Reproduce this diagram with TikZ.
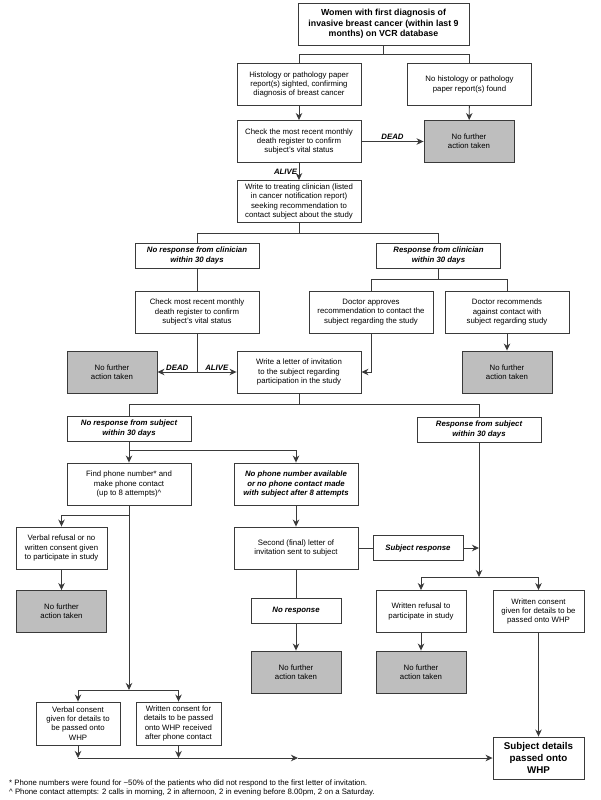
\documentclass[tikz,border=0pt]{standalone}
\usepackage{fontspec}
\setmainfont{Liberation Sans}
\usetikzlibrary{arrows.meta}
\definecolor{frame}{HTML}{3A3A3A}
\definecolor{wire}{HTML}{3A3A3A}
\definecolor{halt}{HTML}{BEBEBE}
\tikzset{
  stepbox/.style={draw=frame, line width=0.9pt, fill=white, align=center, inner sep=0pt,
    minimum width=124pt, minimum height=42pt, font=\fontsize{7.8}{9.3}\selectfont},
  smallbox/.style={stepbox, minimum width=90pt},
  stopbox/.style={smallbox, fill=halt},
  branchbox/.style={stepbox, minimum height=25pt,
    font=\bfseries\itshape\fontsize{7.8}{9.3}\selectfont},
  headbox/.style={stepbox, minimum width=171pt, font=\bfseries\fontsize{8.8}{10.5}\selectfont},
  endbox/.style={stepbox, minimum width=91pt, font=\bfseries\fontsize{9.8}{11.7}\selectfont},
  link/.style={draw=wire, line width=0.9pt},
  linkarrow/.style={link, -{Stealth[length=7pt,width=6.5pt,inset=2.2pt]}},
  branchtag/.style={font=\bfseries\itshape\fontsize{7.8}{9.3}\selectfont, inner sep=1.5pt},
  note/.style={font=\fontsize{7.8}{9}\selectfont, inner sep=0pt, anchor=west},
}
\newcommand{\haltnode}[2]{%
  \node[stopbox] (#1) at (#2) {No further\\action taken};
}

\begin{document}
\begin{tikzpicture}[x=1pt, y=-1pt]
\path[use as bounding box] (0,0) rectangle (600,800);

\node[headbox] (women) at (383.5,24) {Women with first diagnosis of\\invasive breast cancer (within last 9\\months) on VCR database};
\node[stepbox] (histo) at (299,84.5) {Histology or pathology paper\\report(s) sighted, confirming\\diagnosis of breast cancer};
\node[stepbox] (nohisto) at (469.5,84.5) {No histology or pathology\\paper report(s) found};
\node[stepbox] (vital) at (299,141.5) {Check the most recent monthly\\death register to confirm\\subject's vital status};
\haltnode{halttop}{469,141.5}
\node[stepbox] (clin) at (299,201.5) {Write to treating clinician (listed\\in cancer notification report)\\seeking recommendation to\\contact subject about the study};
\node[branchbox] (noclin) at (197,255.5) {No response from clinician\\within 30 days};
\node[branchbox] (yesclin) at (438.5,255.5) {Response from clinician\\within 30 days};
\node[stepbox] (recheck) at (197,312) {Check most recent monthly\\death register to confirm\\subject's vital status};
\node[stepbox] (approve) at (371,312) {Doctor approves\\recommendation to contact the\\subject regarding the study};
\node[stepbox] (against) at (507,312) {Doctor recommends\\against contact with\\subject regarding study};
\haltnode{haltdead}{112,372}
\node[stepbox] (invite) at (299,372) {Write a letter of invitation\\to the subject regarding\\participation in the study};
\haltnode{haltdoc}{507,372}
\node[branchbox] (nosubj) at (129,428.5) {No response from subject\\within 30 days};
\node[branchbox] (yessubj) at (479,429.5) {Response from subject\\within 30 days};
\node[stepbox] (phone) at (129,484) {Find phone number* and\\make phone contact\\(up to 8 attempts)\^{}};
\node[stepbox, font=\bfseries\itshape\fontsize{7.8}{9.3}\selectfont] (nophone) at (296,484) {No phone number available\\or no phone contact made\\with subject after 8 attempts};
\node[smallbox, minimum width=91pt] (verbref) at (61.5,548) {Verbal refusal or no\\written consent given\\to participate in study};
\node[stepbox] (second) at (296,548) {Second (final) letter of\\invitation sent to subject};
\node[branchbox, minimum width=90pt] (subjresp) at (418,548) {Subject response};
\haltnode{haltverbal}{61.5,611.5}
\node[branchbox, minimum width=90pt] (noresp) at (296,610.5) {No response};
\node[smallbox] (wrefusal) at (421,611.5) {Written refusal to\\participate in study};
\node[smallbox, minimum width=91pt] (wconsent) at (538.5,611.5) {Written consent\\given for details to be\\passed onto WHP};
\haltnode{haltfinal}{296,672}
\haltnode{haltrefusal}{421,672}
\node[smallbox, minimum width=84pt, minimum height=43pt] (vconsent) at (78,723.5) {Verbal consent\\given for details to\\be passed onto\\WHP};
\node[smallbox, minimum width=85pt, minimum height=43pt] (wphone) at (178.5,723.5) {Written consent for\\details to be passed\\onto WHP received\\after phone contact};
\node[endbox] (details) at (538.5,758) {Subject details\\passed onto\\WHP};

\node[note] (fnnumber) at (9,783) {* Phone numbers were found for \textasciitilde 50\% of the patients who did not respond to the first letter of invitation.};
\node[note] (fnattempt) at (9,792) {\textasciicircum\ Phone contact attempts: 2 calls in morning, 2 in afternoon, 2 in evening before 8.00pm, 2 on a Saturday.};

\coordinate (topsplit) at (383.5,54);
\coordinate (clinsplit) at (299,233);
\coordinate (docsplit) at (438.5,279);
\coordinate (vitalsplit) at (197,372);
\coordinate (invitesplit) at (299,404);
\coordinate (nosubjsplit) at (129,450);
\coordinate (phonebend) at (129,515);
\coordinate (consentsplit) at (129,690);
\coordinate (replyjoin) at (479,548);
\coordinate (replysplit) at (479,577);
\coordinate (joinverbal) at (78,758);
\coordinate (joinwritten) at (178.5,758);
\coordinate (joinmid) at (298,758);

\draw[link] (women) -- (topsplit);
\draw[link] (topsplit) -| (histo);
\draw[link] (topsplit) -| (nohisto);
\draw[linkarrow] (histo) -- (vital);
\draw[linkarrow] (nohisto) -- (halttop);
\draw[linkarrow] (vital) -- node[branchtag, above] {DEAD} (halttop);
\draw[linkarrow] (vital) -- node[branchtag, left] {ALIVE} (clin);
\draw[link] (clin) -- (clinsplit);
\draw[link] (clinsplit) -| (noclin);
\draw[link] (clinsplit) -| (yesclin);
\draw[link] (noclin) -- (recheck);
\draw[link] (yesclin) -- (docsplit);
\draw[link] (docsplit) -| (approve);
\draw[link] (docsplit) -| (against);
\draw[link] (recheck) -- (vitalsplit);
\draw[linkarrow] (vitalsplit) -- node[branchtag, above] {DEAD} (haltdead);
\draw[linkarrow] (vitalsplit) -- node[branchtag, above] {ALIVE} (invite);
\draw[linkarrow] (approve) |- (invite);
\draw[linkarrow] (against) -- (haltdoc);
\draw[link] (invite) -- (invitesplit);
\draw[link] (invitesplit) -| (nosubj);
\draw[link] (invitesplit) -| (yessubj);
\draw[link] (nosubj) -- (nosubjsplit);
\draw[linkarrow] (nosubjsplit) -- (phone);
\draw[linkarrow] (nosubjsplit) -| (nophone);
\draw[linkarrow] (phonebend) -| (verbref);
\draw[linkarrow] (phone) -- (consentsplit);
\draw[linkarrow] (verbref) -- (haltverbal);
\draw[linkarrow] (consentsplit) -| (vconsent);
\draw[linkarrow] (consentsplit) -| (wphone);
\draw[linkarrow] (nophone) -- (second);
\draw[link] (second) -- (noresp);
\draw[linkarrow] (noresp) -- (haltfinal);
\draw[link] (second) -- (subjresp);
\draw[linkarrow] (subjresp) -- (replyjoin);
\draw[linkarrow] (yessubj) -- (replysplit);
\draw[linkarrow] (replysplit) -| (wrefusal);
\draw[linkarrow] (replysplit) -| (wconsent);
\draw[linkarrow] (wrefusal) -- (haltrefusal);
\draw[linkarrow] (wconsent) -- (details);
\draw[linkarrow] (vconsent) -- (joinverbal);
\draw[linkarrow] (wphone) -- (joinwritten);
\draw[linkarrow] (joinverbal) -- (joinmid);
\draw[linkarrow] (joinmid) -- (details);
\end{tikzpicture}
\end{document}
